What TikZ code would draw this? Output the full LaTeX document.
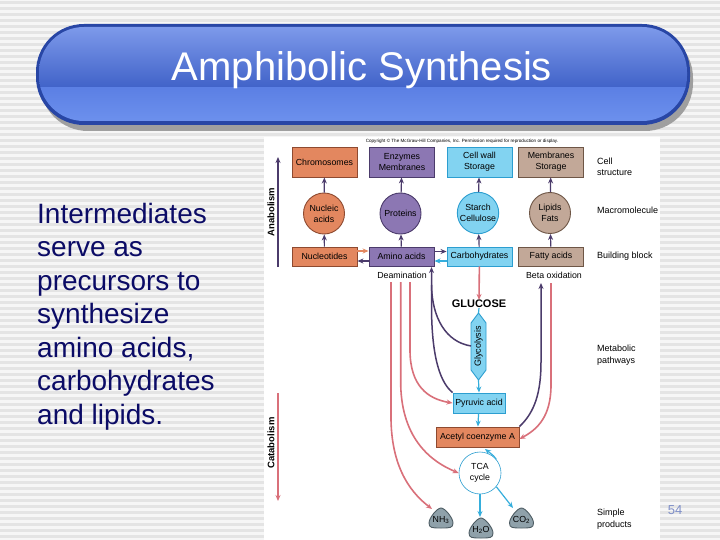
\documentclass[tikz,border=0pt]{standalone}
\usepackage{fontspec}
\setmainfont{Liberation Sans}
\usetikzlibrary{arrows.meta,shapes.geometric}
\definecolor{bgS}{HTML}{E4E4E4}
\definecolor{bgW}{HTML}{F6F6F6}
\definecolor{cOr}{HTML}{E3875F}
\definecolor{cOrD}{HTML}{8E4A30}
\definecolor{cPu}{HTML}{8C77B3}
\definecolor{cPuD}{HTML}{4B3B6B}
\definecolor{cCy}{HTML}{82D3F1}
\definecolor{cCyD}{HTML}{2C9ED0}
\definecolor{cTa}{HTML}{C2A898}
\definecolor{cTaD}{HTML}{6E5646}
\definecolor{cGr}{HTML}{8FA1AA}
\definecolor{cGrD}{HTML}{4E5D64}
\definecolor{cPk}{HTML}{D9707A}
\definecolor{cAr}{HTML}{35AEDC}
\definecolor{navy}{HTML}{0B0B66}
\definecolor{pgnum}{HTML}{7F8FC8}
\definecolor{barD}{RGB}{40,70,165}
\definecolor{barT}{RGB}{128,156,236}
\definecolor{barM}{RGB}{64,98,200}
\definecolor{barB1}{RGB}{92,128,228}
\definecolor{barB2}{RGB}{110,146,238}
\tikzset{
  fig/.style={font=\fontsize{8.8}{11}\selectfont, inner sep=0.5pt, align=center, line width=0.9pt},
  bx/.style={fig, draw, rectangle, minimum width=65, minimum height=30},
  bb/.style={bx, minimum height=19},
  ci/.style={fig, draw, circle, minimum size=41},
  orng/.style={fill=cOr, draw=cOrD},
  purp/.style={fill=cPu, draw=cPuD},
  cyan/.style={fill=cCy, draw=cCyD},
  tan/.style={fill=cTa, draw=cTaD},
  prod/.style={fig, inner sep=0pt},
  blob/.style={fill=cGr, draw=cGrD, line width=0.9pt},
  tip/.style={-{Stealth[length=6pt,width=5pt]}},
  darr/.style={draw=cPuD, line width=1.5pt, tip},
  parr/.style={draw=cPk, line width=1.6pt, tip},
  carr/.style={draw=cAr, line width=1.2pt, tip},
  side/.style={font=\fontsize{9}{11.5}\selectfont, align=left, anchor=west, inner sep=0pt},
  body/.style={font=\fontsize{28}{33.5}\selectfont, text=navy, anchor=base west, inner sep=0pt},
}
\begin{document}
\begin{tikzpicture}[x=1pt,y=-1pt]
\useasboundingbox (0,0) rectangle (720,540);
% striped background
\fill[bgW] (0,0) rectangle (720,540);
\foreach \i in {0,...,89} { \fill[bgS] (0,6*\i+1) rectangle (720,6*\i+4); }
% figure area
\fill[white] (264,137) rectangle (660,540);

% title bar
\fill[gray!75,rounded corners=48pt] (40,30) rectangle (693,131);
\fill[barD,rounded corners=48pt] (36,24) rectangle (690,125);
\begin{scope}
  \clip[rounded corners=45pt] (39,27) rectangle (687,121);
  \shade[top color=barT, bottom color=barM] (36,24) rectangle (690,88);
  \shade[top color=barB1, bottom color=barB2] (36,88) rectangle (690,125);
\end{scope}
\node[font=\fontsize{40}{44}\selectfont, text=white, anchor=base, inner sep=0pt] (title) at (362,81) {Amphibolic Synthesis};

% body text
\node[body] (t1) at (37,223) {Intermediates};
\node[body] (t2) at (37,256.5) {serve as};
\node[body] (t3) at (37,290) {precursors to};
\node[body] (t4) at (37,323.5) {synthesize};
\node[body] (t5) at (37,357) {amino acids,};
\node[body] (t6) at (37,390.5) {carbohydrates};
\node[body] (t7) at (37,424) {and lipids.};

% copyright
\node[font=\fontsize{4.6}{5}\selectfont, inner sep=0pt] (copy) at (462,141.5) {Copyright \textcopyright\ The McGraw-Hill Companies, Inc. Permission required for reproduction or display.};

% row 1
\node[bx,orng] (chrom) at (324.5,162) {Chromosomes};
\node[bx,purp] (enz) at (402,162) {Enzymes\\Membranes};
\node[bx,cyan] (cell) at (479.5,162) {Cell wall\\Storage};
\node[bx,tan] (memb) at (551,162) {Membranes\\Storage};
% row 2
\node[ci,orng] (nuca) at (324,213.5) {Nucleic\\acids};
\node[ci,purp] (prot) at (400.5,213.5) {Proteins};
\node[ci,cyan] (starch) at (478,213) {Starch\\Cellulose};
\node[ci,tan] (lip) at (550,213) {Lipids\\Fats};
% row 3
\node[bb,orng] (nucl) at (324.5,256.5) {Nucleotides};
\node[bb,purp] (amino) at (401.5,256.5) {Amino acids};
\node[bb,cyan] (carb) at (479.5,256.5) {Carbohydrates};
\node[bb,tan] (fatty) at (551,256.5) {Fatty acids};

% vertical arrows
\foreach \a/\b in {nucl/nuca, nuca/chrom, amino/prot, prot/enz, carb/starch, starch/cell, fatty/lip, lip/memb}
  \draw[darr, line width=1.2pt] (\a) -- (\b);

% horizontal arrows
\draw[draw=cOr, line width=1.2pt, tip] ([yshift=5.5pt]nucl.east) -- ([yshift=5.5pt]amino.west);
\draw[darr, line width=1.2pt] ([yshift=-4.5pt]amino.west) -- ([yshift=-4.5pt]nucl.east);
\draw[darr, line width=1.2pt] ([yshift=5pt]amino.east) -- ([yshift=5pt]carb.west);
\draw[carr] ([yshift=-4.5pt]carb.west) -- ([yshift=-4.5pt]amino.east);

% side labels
\node[side] (lcell) at (597,167) {Cell\\structure};
\node[side] (lmacro) at (597,210) {Macromolecule};
\node[side] (lbb) at (597,256.5) {Building block};
\node[side] (lmet) at (597,355) {Metabolic\\pathways};
\node[side] (lsimp) at (597,519) {Simple\\products};

% anabolism / catabolism
\coordinate (anaB) at (278,267);
\coordinate (anaT) at (278,157);
\draw[darr, line width=1.2pt] (anaB) -- (anaT);
\node[font=\bfseries\fontsize{9.5}{10}\selectfont, rotate=90, inner sep=0pt] (ana) at (271,212) {Anabolism};
\coordinate (catT) at (278,393);
\coordinate (catB) at (278,501);
\draw[parr, line width=1.2pt] (catT) -- (catB);
\node[font=\bfseries\fontsize{9.5}{10}\selectfont, rotate=90, inner sep=0pt] (cata) at (271,443) {Catabolism};

% labels under row 3
\node[fig, inner sep=0pt] (deam) at (402,275) {Deamination};
\node[fig, inner sep=0pt] (beta) at (554,275) {Beta oxidation};

% glucose and glycolysis
\node[font=\bfseries\fontsize{11}{12}\selectfont, inner sep=0pt] (gluc) at (479,304) {GLUCOSE};
\draw[parr] (carb) -- (gluc.north);
\fill[cCy, draw=cCyD, line width=0.9pt] (478.5,313) -- (486,323) -- (486,370) -- (478.5,380) -- (471,370) -- (471,323) -- cycle;
\node[fig, rotate=90, inner sep=0pt, font=\fontsize{9}{10}\selectfont] (glyc) at (478.5,346.5) {Glycolysis};
\coordinate (gtop) at (478.5,313);
\coordinate (gbot) at (478.5,380);
\coordinate (gleft) at (471,346);
\draw[draw=cAr, line width=1.2pt] (gluc.south) -- (gtop);

\node[bb,cyan, minimum width=52, minimum height=20] (pyr) at (479,403) {Pyruvic acid};
\node[bb,orng, minimum width=83, minimum height=20] (acet) at (477.5,437) {Acetyl coenzyme A};
\draw[carr] (gbot) -- (pyr.north);
\draw[carr] (pyr) -- (acet);

\node[fig, draw=cCyD, line width=0.6pt, circle, minimum size=42, fill=white] (tca) at (480,473) {TCA\\cycle};
\draw[carr] (tca.40) .. controls (494,456) .. (485,449);

% simple products
\foreach \cx/\cy in {441/519, 481/529, 521.5/519}
  \path[blob] (\cx,\cy-11) .. controls (\cx+4,\cy-11) and (\cx+12,\cy-1) .. (\cx+12,\cy+4)
     .. controls (\cx+12,\cy+9) and (\cx+9,\cy+9) .. (\cx,\cy+9)
     .. controls (\cx-9,\cy+9) and (\cx-12,\cy+9) .. (\cx-12,\cy+4)
     .. controls (\cx-12,\cy-1) and (\cx-4,\cy-11) .. (\cx,\cy-11) -- cycle;
\node[prod] (nh3) at (441,520) {NH\textsubscript{3}};
\node[prod] (h2o) at (481,530) {H\textsubscript{2}O};
\node[prod] (co2) at (521.5,520) {CO\textsubscript{2}};
\coordinate (nh3in) at (432,509);
\coordinate (h2oin) at (480,517);
\coordinate (co2in) at (513,508);
\draw[carr] (tca.south) -- (h2oin);
\draw[carr] (tca.-40) -- (co2in);

% purple curves into amino acids
\coordinate (amUp) at (431.5,267);
\draw[darr] (pyr.north west) .. controls (441,383) and (431.5,360) .. (431.5,305) -- (amUp);
\draw[draw=cPuD, line width=1.5pt] (gleft) .. controls (446,342) and (432,318) .. (431.5,285);

% pink curves from deamination
\draw[parr] (410,282) -- (410,350) .. controls (410,386) and (428,399) .. (pyr.west);
\draw[parr] (400.7,282) -- (400.7,385) .. controls (402,440) and (432,462) .. (tca.west);
\draw[parr] (391,282) -- (391,420) .. controls (392,472) and (414,495) .. (nh3in);

% beta oxidation curves
\draw[darr] (acet.north east) .. controls (535,412) and (541,392) .. (541,362) -- (541,283);
\draw[parr] (551,283) -- (551,385) .. controls (551,416) and (538,429) .. ([yshift=-2pt]acet.east);

% page number
\node[font=\fontsize{13}{14}\selectfont, text=pgnum, inner sep=0pt] (pg) at (675,510) {54};
\end{tikzpicture}
\end{document}
